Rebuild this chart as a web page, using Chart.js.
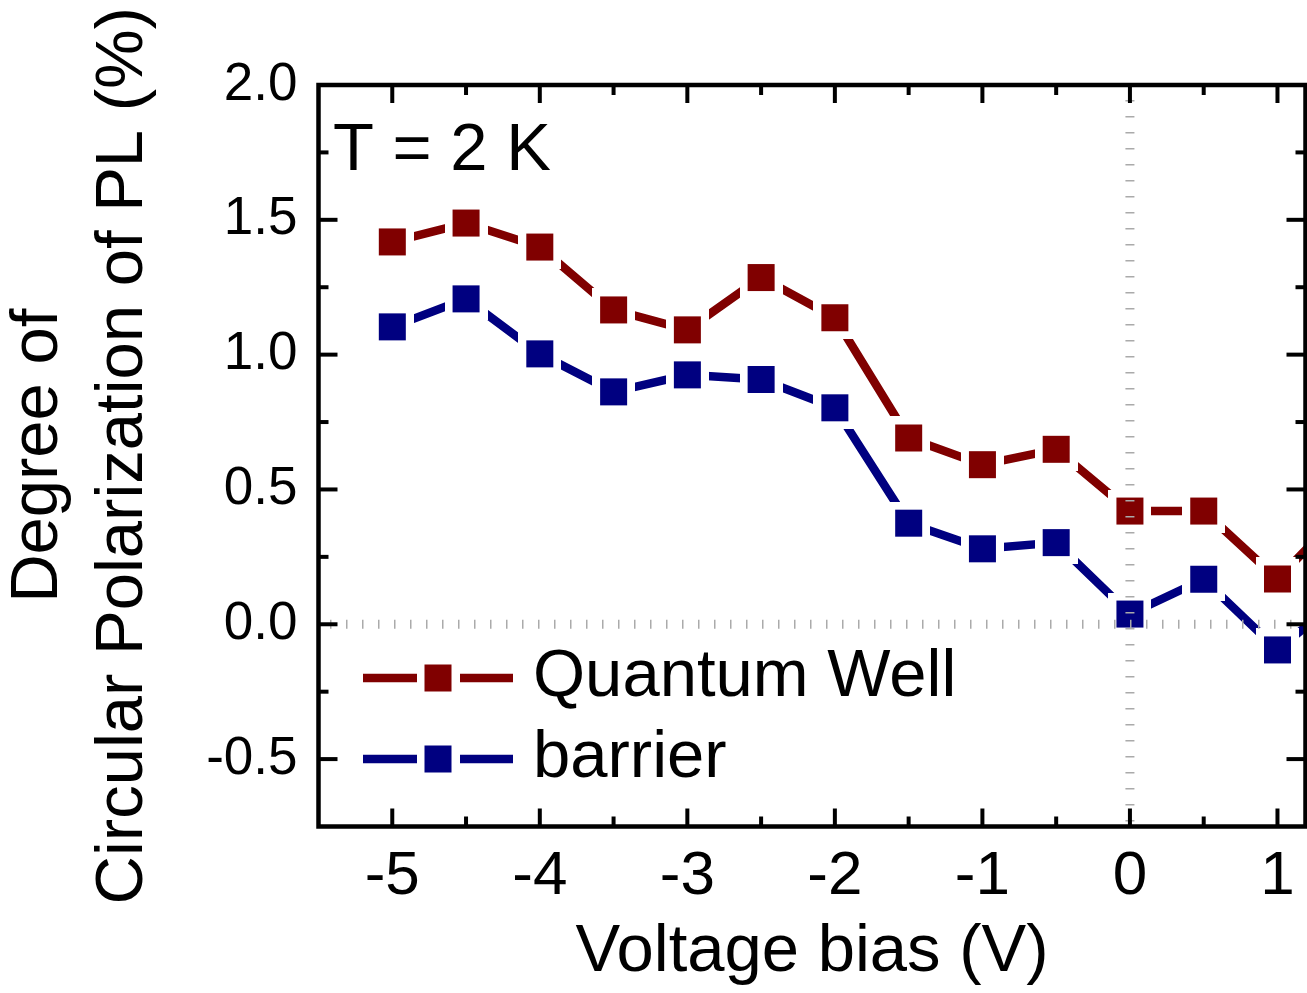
<!DOCTYPE html>
<html>
<head>
<meta charset="utf-8">
<script src="https://cdn.jsdelivr.net/npm/chart.js@4.4.1/dist/chart.umd.min.js"></script>
<style>
  html, body { margin: 0; padding: 0; background: #fff; }
  canvas { display: block; }
</style>
</head>
<body>
<canvas id="dcpChart" width="1307" height="993"></canvas>
<script>
// bias voltage (V) and degree of circular polarization (%)
const voltage = [-5, -4.5, -4, -3.5, -3, -2.5, -2, -1.5, -1, -0.5, 0, 0.5, 1, 1.5];
const qwDcp = [1.418, 1.488, 1.399, 1.166, 1.092, 1.286, 1.137, 0.691, 0.592, 0.649, 0.420, 0.420, 0.168, 0.45];
const barrierDcp = [1.103, 1.207, 1.003, 0.862, 0.925, 0.908, 0.803, 0.375, 0.280, 0.303, 0.038, 0.167, -0.095, 0.13];

const seriesNames = ['Quantum Well', 'barrier'];
const seriesColors = ['#800000', '#000080'];

const xTicks = [-5, -4, -3, -2, -1, 0, 1];
const xTickLabels = ['-5', '-4', '-3', '-2', '-1', '0', '1'];
const yTicks = [-0.5, 0, 0.5, 1, 1.5, 2];
const yTickLabels = ['-0.5', '0.0', '0.5', '1.0', '1.5', '2.0'];

const FONT = '"Liberation Sans", Arial, sans-serif';

// square marker with a white margin, so the line stops short of it
function makeMarker(color) {
    const c = document.createElement('canvas');
    c.width = 43;
    c.height = 43;
    const g = c.getContext('2d');
    g.fillStyle = '#fff';
    g.fillRect(0, 0, 43, 43);
    g.fillStyle = color;
    g.fillRect(8, 8, 27, 27);
    return c;
}
const markers = seriesColors.map(makeMarker);

function toPoints(ys) {
    return voltage.map((v, i) => ({ x: v, y: ys[i] }));
}

function minorsOf(majors) {
    const step = majors[1] - majors[0];
    const out = [majors[0] - step / 2];
    majors.forEach(v => out.push(v + step / 2));
    return out;
}

const framePlugin = {
    id: 'frame',
    afterDatasetsDraw(chart) {
        const { ctx, chartArea: a, scales: { x, y } } = chart;
        // dotted zero lines
        ctx.save();
        ctx.strokeStyle = '#aaaaaa';
        ctx.lineWidth = 9;
        ctx.setLineDash([1.5, 14.5]);
        const y0 = y.getPixelForValue(0);
        ctx.beginPath();
        ctx.moveTo(a.left + 11.5, y0);
        ctx.lineTo(a.right, y0);
        ctx.stroke();
        const x0 = x.getPixelForValue(0);
        ctx.beginPath();
        ctx.moveTo(x0, a.top + 15);
        ctx.lineTo(x0, a.bottom);
        ctx.stroke();
        ctx.restore();
    },
    afterDraw(chart) {
        const { ctx, chartArea: a, scales: { x, y } } = chart;
        ctx.save();
        ctx.strokeStyle = '#000';
        ctx.lineWidth = 4.5;
        ctx.lineCap = 'square';
        ctx.strokeRect(a.left, a.top, a.right - a.left, a.bottom - a.top);

        ctx.lineCap = 'butt';
        ctx.lineWidth = 4;
        const tick = (x1, y1, x2, y2) => {
            ctx.beginPath();
            ctx.moveTo(x1, y1);
            ctx.lineTo(x2, y2);
            ctx.stroke();
        };
        const xs = (vals, len) => vals.forEach(v => {
            if (v <= x.min || v >= x.max) return;
            const px = x.getPixelForValue(v);
            tick(px, a.bottom, px, a.bottom - len);
            tick(px, a.top, px, a.top + len);
        });
        const ys = (vals, len) => vals.forEach(v => {
            if (v <= y.min || v >= y.max) return;
            const py = y.getPixelForValue(v);
            tick(a.left, py, a.left + len, py);
            tick(a.right, py, a.right - len, py);
        });
        xs(xTicks, 18);
        xs(minorsOf(xTicks), 10);
        ys(yTicks, 19);
        ys(minorsOf(yTicks), 10);

        // legend
        ctx.font = '67px ' + FONT;
        ctx.textBaseline = 'middle';
        ctx.fillStyle = '#000';
        const rows = [678, 759];
        chart.data.datasets.forEach((ds, i) => {
            const ry = rows[i];
            ctx.strokeStyle = ds.borderColor;
            ctx.lineWidth = ds.borderWidth;
            tick(363, ry, 513, ry);
            ctx.drawImage(markers[i], 438 - 21.5, ry - 21.5);
            ctx.fillText(ds.label, 533, ry);
        });

        ctx.textBaseline = 'alphabetic';
        ctx.fillText('T = 2 K', 333, 170);
        ctx.restore();
    }
};

const datasets = seriesNames.map((name, i) => ({
    label: name,
    data: toPoints(i === 0 ? qwDcp : barrierDcp),
    borderColor: seriesColors[i],
    backgroundColor: seriesColors[i],
    borderWidth: 8.5,
    borderCapStyle: 'butt',
    pointStyle: markers[i],
    pointRadius: 20,
    pointHoverRadius: 20,
    tension: 0,
    clip: 0
}));

new Chart(document.getElementById('dcpChart'), {
    type: 'line',
    data: { datasets: datasets },
    plugins: [framePlugin],
    options: {
        responsive: false,
        animation: false,
        events: [],
        layout: { autoPadding: false, padding: { top: 85, right: 1.5, left: 0, bottom: 0 } },
        plugins: { legend: { display: false }, tooltip: { enabled: false } },
        scales: {
            x: {
                type: 'linear',
                min: -5.5,
                max: 1.19,
                afterFit: s => {
                    s.height = 166.5;
                    s.paddingLeft = 0;
                    s.paddingRight = 0;
                },
                afterBuildTicks: s => { s.ticks = xTicks.map(v => ({ value: v })); },
                grid: { display: false, drawTicks: false },
                border: { display: false },
                ticks: {
                    autoSkip: false,
                    maxRotation: 0,
                    padding: 13,
                    color: '#000',
                    font: { family: FONT, size: 62 },
                    callback: (v, i) => xTickLabels[i]
                },
                title: {
                    display: true,
                    text: 'Voltage bias (V)',
                    color: '#000',
                    font: { family: FONT, size: 67 },
                    padding: { top: 0, bottom: 0 }
                }
            },
            y: {
                type: 'linear',
                min: -0.75,
                max: 2.0,
                afterFit: s => {
                    s.width = 318.5;
                    s.paddingTop = 0;
                    s.paddingBottom = 0;
                },
                afterBuildTicks: s => { s.ticks = yTicks.map(v => ({ value: v })); },
                grid: { display: false, drawTicks: false },
                border: { display: false },
                ticks: {
                    autoSkip: false,
                    padding: 21,
                    color: '#000',
                    font: { family: FONT, size: 53 },
                    callback: (v, i) => yTickLabels[i]
                },
                title: {
                    display: true,
                    text: ['Degree of', 'Circular Polarization of PL (%)'],
                    color: '#000',
                    font: { family: FONT, size: 67, lineHeight: 1.27 },
                    padding: { top: -4, bottom: 0 }
                }
            }
        }
    }
});
</script>
</body>
</html>
